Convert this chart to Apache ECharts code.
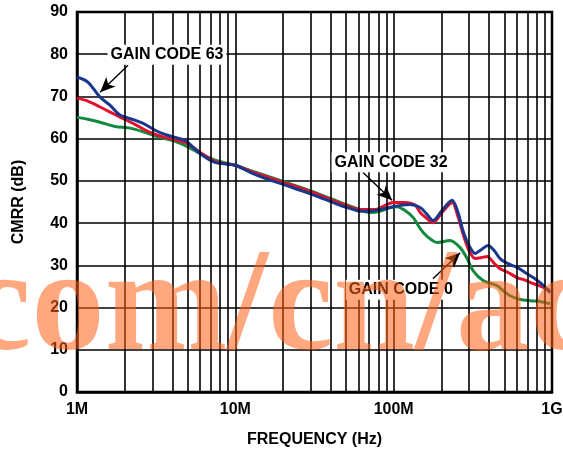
<!DOCTYPE html>
<html><head><meta charset="utf-8">
<script src="https://cdn.jsdelivr.net/npm/echarts@6/dist/echarts.min.js"></script>
<style>html,body{margin:0;padding:0;background:#fff}#c{width:563px;height:450px}</style>
</head><body><div id="c"></div>
<script>
// Frequency in MHz, CMRR in dB
const xTickLabels = {1:'1M', 10:'10M', 100:'100M', 1000:'1G'};
const yTicks = [0,10,20,30,40,50,60,70,80,90];
const minorFreqs = [2,3,4,5,6,7,8,9,20,30,40,50,60,70,80,90,200,300,400,500,600,700,800,900];

const gainCode63 = [
 [1,74.6],[1.17,73.4],[1.40,69.8],[1.62,67.9],[1.87,65.6],[2.32,64.4],[2.69,63.4],[3.11,62.0],[3.60,61.0],[4.16,60.3],[4.81,59.6],
 [5.98,56.5],[7.44,54.4],[10,53.7],[12.4,52.0],[15.4,50.6],[19.2,49.4],[23.8,48.2],[29.6,47.0],[36.9,45.6],[45.9,44.2],[53,43.5],
 [61.3,42.8],[71,42.8],[82,43.2],[94.9,43.7],[110,44.2],[127,44.4],[147,43.7],[163,42.0],[177,40.6],[202,43.0],[234,45.4],[255,42.5],
 [274,38.2],[299,34.7],[327,32.8],[357,33.7],[395,34.7],[431,33.5],[470,31.6],[528,30.4],[602,29.5],[676,28.3],[760,27.1],[853,25.7],[973,23.5]
];
const gainCode32 = [
 [1,69.6],[1.17,68.9],[1.40,67.5],[1.62,66.3],[1.87,65.1],[2.32,63.4],[2.89,61.5],[3.60,60.3],[4.81,59.1],[5.98,56.8],[7.44,54.6],
 [10,53.7],[12.4,52.3],[19.2,49.9],[29.6,47.5],[45.9,44.7],[61.3,43.2],[76.3,43.2],[88.3,44.2],[99.1,44.9],[118,44.9],[137,44.2],
 [147,42.5],[163,41.0],[177,40.1],[202,42.5],[234,44.9],[255,41.5],[274,37.5],[299,33.5],[327,31.6],[357,31.8],[389,32.1],[431,30.5],
 [470,29.2],[528,28.3],[602,27.1],[676,26.5],[760,25.7],[853,25.0],[973,24.0]
];
const gainCode0 = [
 [1,65.1],[1.17,64.6],[1.40,63.9],[1.74,62.9],[2.16,62.5],[2.69,61.5],[3.35,60.3],[4.16,59.4],[4.81,58.4],[5.98,56.5],[7.44,54.9],
 [10,53.7],[12.4,52.5],[19.2,50.1],[29.6,47.7],[45.9,44.9],[61.3,43.2],[71,42.5],[82,42.8],[94.9,43.7],[105,43.9],[118,43.0],
 [133,41.3],[147,38.7],[163,36.8],[188,35.4],[227,35.9],[263,34.2],[291,31.6],[318,28.7],[367,26.4],[450,25.2],[491,24.0],[544,22.8],
 [629,21.9],[728,21.6],[853,21.4],[973,20.9]
];
const labels = [
 {text:'GAIN CODE 63', at:[3.70,79.9], arrowFrom:[2.10,77.4], arrowTo:[1.40,71.0]},
 {text:'GAIN CODE 32', at:[96.3,54.4], arrowFrom:[64.1,52.0], arrowTo:[97.7,45.4]},
 {text:'GAIN CODE 0', at:[111,24.2], arrowFrom:[177,26.8], arrowTo:[263,33.0]}
];
const watermark = 'com/cn/ad';

const font = '"Liberation Sans", Arial, sans-serif';
const chart = echarts.init(document.getElementById('c'), null, {renderer:'canvas'});

const gridSeries = {
  type:'line', data:[], silent:true, z:1,
  markLine:{
    silent:true, symbol:['none','none'], animation:false,
    label:{show:false},
    lineStyle:{color:'#000', width:1.6, type:'solid'},
    data: minorFreqs.map(f => ({xAxis:f}))
  }
};

function curve(name, data, color){
  return {name, type:'line', data, showSymbol:false, smooth:0.3, z:3,
    lineStyle:{color, width:3}, itemStyle:{color}, animation:false};
}

const annot = {
  type:'line', data:[], z:5, silent:true,
  markLine:{
    silent:true, animation:false, symbol:['none','arrow'], symbolSize:[10,15],
    label:{show:false},
    lineStyle:{color:'#000', width:1.4, type:'solid'},
    data: labels.map(l => [{coord:l.arrowFrom},{coord:l.arrowTo}])
  },
  markPoint:{
    silent:true, animation:false, symbol:'rect', symbolSize:0,
    label:{show:true, position:'inside', color:'#000', fontFamily:font, fontWeight:'bold', fontSize:16,
      backgroundColor:'#fff', padding:[2,3], formatter: p => p.name},
    data: labels.map(l => ({name:l.text, coord:l.at}))
  }
};

chart.setOption({
  animation:false,
  backgroundColor:'#fff',
  grid:{left:77, right:11, top:12, bottom:58, show:true, borderColor:'#000', borderWidth:2.5,
    containLabel:false, outerBoundsMode:'none'},
  xAxis:{type:'log', logBase:10, min:1, max:1000,
    name:'FREQUENCY (Hz)', nameLocation:'middle', nameGap:40,
    nameTextStyle:{fontFamily:font, fontWeight:'bold', fontSize:16, color:'#000'},
    axisLine:{lineStyle:{color:'#000', width:2.5}},
    axisTick:{show:false},
    axisLabel:{fontFamily:font, fontWeight:'bold', fontSize:16, color:'#000', margin:10,
      formatter: v => xTickLabels[Math.round(v)] || ''},
    splitLine:{show:true, lineStyle:{color:'#000', width:1.6}}
  },
  yAxis:{type:'value', min:yTicks[0], max:yTicks[yTicks.length-1], interval:10,
    name:'CMRR (dB)', nameLocation:'middle', nameGap:50, nameRotate:90,
    nameTextStyle:{fontFamily:font, fontWeight:'bold', fontSize:16, color:'#000'},
    axisLine:{lineStyle:{color:'#000', width:2.5}},
    axisTick:{show:false},
    axisLabel:{fontFamily:font, fontWeight:'bold', fontSize:16, color:'#000', margin:9},
    splitLine:{show:true, lineStyle:{color:'#000', width:1.6}}
  },
  series:[
    gridSeries,
    curve('GAIN CODE 0', gainCode0, '#118a3e'),
    curve('GAIN CODE 32', gainCode32, '#e3102d'),
    curve('GAIN CODE 63', gainCode63, '#17388c'),
    annot
  ],
  graphic:[{
    type:'text', left:-34, top:238, z:100, silent:true,
    style:{text:watermark, font:'bold 147px "Liberation Serif", "Times New Roman", serif',
      fill:'rgba(255,95,20,0.55)'}
  }]
});
</script></body></html>
